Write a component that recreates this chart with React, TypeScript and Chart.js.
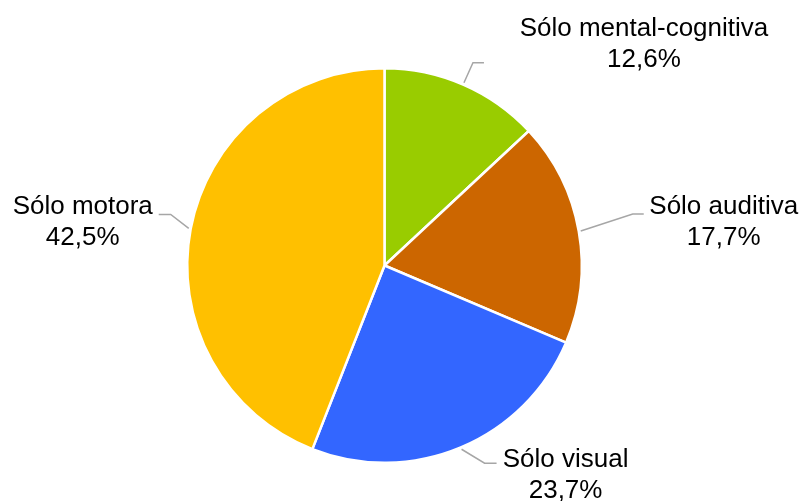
import React, { useEffect, useRef } from "react";
import { Chart, registerables } from "chart.js";

Chart.register(...registerables);

const categories = ["Sólo mental-cognitiva", "Sólo auditiva", "Sólo visual", "Sólo motora"];
const values = [12.6, 17.7, 23.7, 42.5];
const valueLabels = ["12,6%", "17,7%", "23,7%", "42,5%"];
const colors = ["#99CC00", "#CC6600", "#3366FF", "#FFC000"];

// label layout relative to the leader-line start point on the slice edge
const labelLayout = [
  { ex: 9, ey: -20, hx: 11, tx: 180, ty: -47 },
  { ex: 52, ey: -17, hx: 11, tx: 143, ty: -17 },
  { ex: 23, ey: 14, hx: 12, tx: 104, ty: 18 },
  { ex: -18, ey: -14, hx: -12, tx: -106, ty: -14 },
];

const labelPlugin = {
  id: "outerLabels",
  afterDraw(chart: any) {
    const ctx = chart.ctx;
    const meta = chart.getDatasetMeta(0);
    ctx.save();
    meta.data.forEach((arc: any, i: number) => {
      const { x, y, startAngle, endAngle, outerRadius } = arc.getProps(
        ["x", "y", "startAngle", "endAngle", "outerRadius"],
        true
      );
      const mid = (startAngle + endAngle) / 2;
      const sx = x + Math.cos(mid) * (outerRadius + 2);
      const sy = y + Math.sin(mid) * (outerRadius + 2);
      const L = labelLayout[i];
      ctx.strokeStyle = "#A6A6A6";
      ctx.lineWidth = 1.5;
      ctx.beginPath();
      ctx.moveTo(sx, sy);
      ctx.lineTo(sx + L.ex, sy + L.ey);
      ctx.lineTo(sx + L.ex + L.hx, sy + L.ey);
      ctx.stroke();
      ctx.fillStyle = "#000000";
      ctx.font = "26px 'Liberation Sans', Arial, sans-serif";
      ctx.textAlign = "center";
      ctx.textBaseline = "alphabetic";
      const cx = sx + L.tx;
      const cy = sy + L.ty;
      ctx.fillText(categories[i], cx, cy);
      ctx.fillText(valueLabels[i], cx, cy + 31);
    });
    ctx.restore();
  },
};

export default function App() {
  const ref = useRef<HTMLCanvasElement>(null);
  useEffect(() => {
    if (!ref.current) return;
    const chart = new Chart(ref.current, {
      type: "pie",
      data: {
        labels: categories,
        datasets: [
          {
            data: values,
            backgroundColor: colors,
            borderColor: "#FFFFFF",
            borderWidth: 2.5,
          },
        ],
      },
      options: {
        responsive: false,
        animation: false,
        layout: { padding: { left: 186, top: 67, right: 220, bottom: 37 } },
        plugins: {
          legend: { display: false },
          tooltip: { enabled: false },
        },
      },
      plugins: [labelPlugin],
    });
    return () => chart.destroy();
  }, []);
  return (
    <div style={{ position: "fixed", left: 0, top: 0, width: 803, height: 501, background: "#fff" }}>
      <canvas ref={ref} width={803} height={501} style={{ display: "block" }} />
    </div>
  );
}
